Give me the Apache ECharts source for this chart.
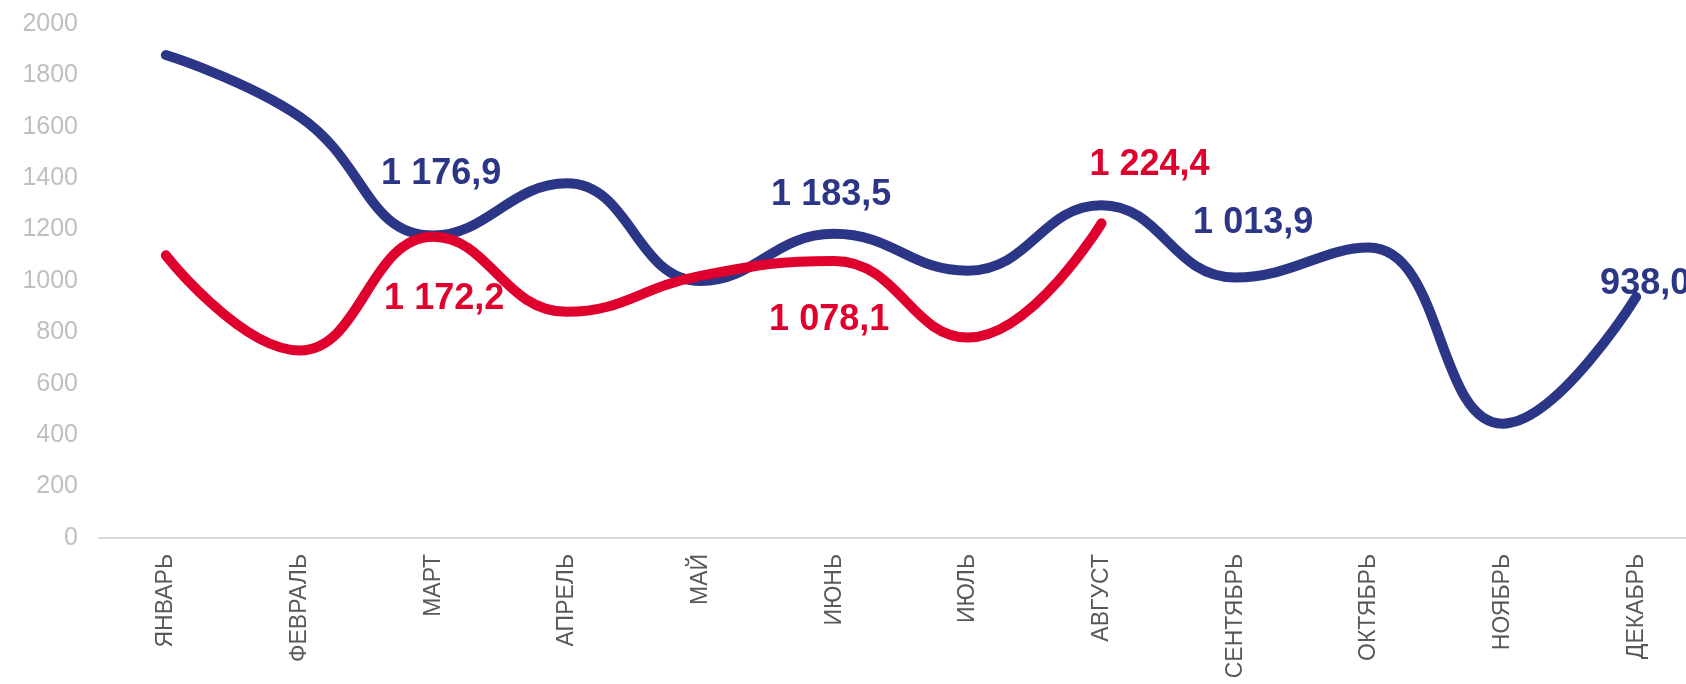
<!DOCTYPE html>
<html>
<head>
<meta charset="utf-8">
<script src="https://cdn.jsdelivr.net/npm/echarts@6/dist/echarts.min.js"></script>
<style>
html, body { margin: 0; padding: 0; background: #fff; overflow: hidden; }
#chart { width: 1720px; height: 684px; }
</style>
</head>
<body>
<div id="chart"></div>
<script>
var months = ['ЯНВАРЬ', 'ФЕВРАЛЬ', 'МАРТ', 'АПРЕЛЬ', 'МАЙ', 'ИЮНЬ', 'ИЮЛЬ', 'АВГУСТ', 'СЕНТЯБРЬ', 'ОКТЯБРЬ', 'НОЯБРЬ', 'ДЕКАБРЬ'];
var prevYear = [1879, 1640, 1176.9, 1380, 1000, 1183.5, 1040, 1295, 1013.9, 1130, 445, 938.0];
var curYear = [1100, 730, 1172.2, 880, 1020, 1078.1, 780, 1224.4];

// подписи только у некоторых точек: индекс -> смещение
var prevLabels = { 2: [8, -61], 5: [-3, -39], 8: [18, -54], 11: [9, -13] };
var curLabels = { 2: [11, 62], 5: [-5, 59], 7: [48, -58] };

var blue = '#2B3686';
var red = '#E0002D';

function fmt(v) {
	var s = v.toFixed(1).split('.');
	var int = s[0].replace(/\B(?=(\d{3})+(?!\d))/g, ' ');
	return int + ',' + s[1];
}

function makeData(values, labels, color) {
	return values.map(function (v, i) {
		var lb = labels[i];
		return {
			value: v,
			label: lb ? {
				show: true,
				position: 'inside',
				offset: lb,
				formatter: function (p) { return fmt(p.value); },
				color: color,
				fontSize: 36,
				fontWeight: 'bold',
				fontFamily: 'Liberation Sans, Arial, sans-serif'
			} : { show: false }
		};
	});
}

var myChart = echarts.init(document.getElementById('chart'));
var options = {
	animation: false,
	grid: { left: 99, right: 17, top: 24, bottom: 146, containLabel: false },
	xAxis: {
		type: 'category',
		data: months,
		boundaryGap: true,
		axisLine: { lineStyle: { color: '#D9D9D9', width: 2 } },
		axisTick: { show: false },
		axisLabel: {
			rotate: 90,
			interval: 0,
			margin: 16,
			color: '#595959',
			fontSize: 23,
			fontFamily: 'Liberation Sans, Arial, sans-serif'
		}
	},
	yAxis: {
		type: 'value',
		min: 0,
		max: 2000,
		interval: 200,
		axisLine: { show: false },
		axisTick: { show: false },
		splitLine: { show: false },
		axisLabel: {
			margin: 21,
			color: '#BFBFBF',
			fontSize: 25,
			fontFamily: 'Liberation Sans, Arial, sans-serif',
			formatter: function (v) { return String(v); }
		}
	},
	series: [
		{
			type: 'line',
			data: makeData(prevYear, prevLabels, blue),
			smooth: 0.45,
			symbol: 'circle',
			symbolSize: 2,
			itemStyle: { color: blue },
			lineStyle: { color: blue, width: 10, cap: 'round', join: 'round' }
		},
		{
			type: 'line',
			data: makeData(curYear, curLabels, red),
			smooth: 0.45,
			symbol: 'circle',
			symbolSize: 2,
			itemStyle: { color: red },
			lineStyle: { color: red, width: 10, cap: 'round', join: 'round' }
		}
	]
};
myChart.setOption(options);
</script>
</body>
</html>
